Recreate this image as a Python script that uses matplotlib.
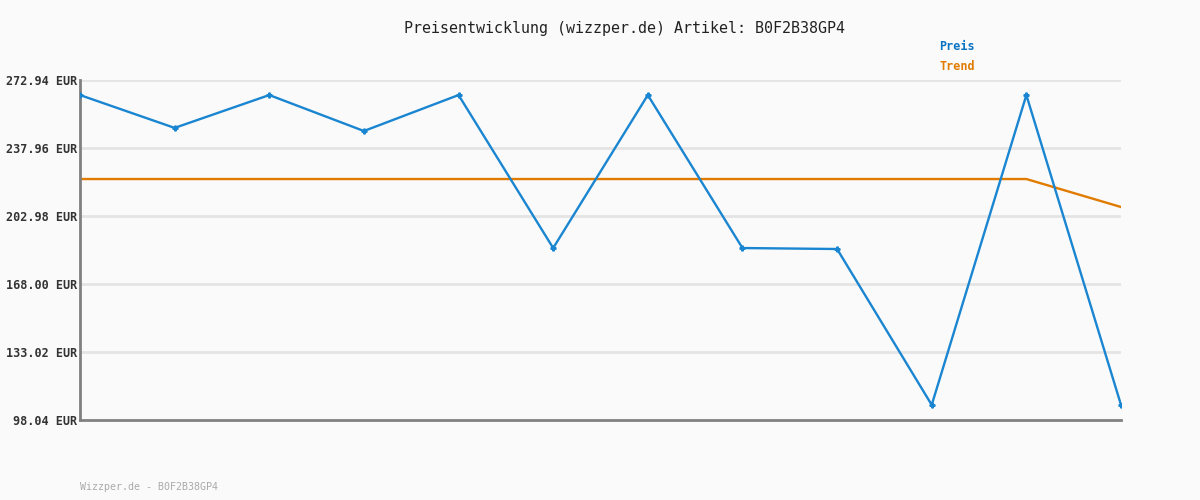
import matplotlib.pyplot as plt

# values
x_idx = list(range(12))
preis = [265.2, 248.3, 265.2, 246.7, 265.2, 186.5, 265.2, 186.5, 186.0, 105.8, 265.2, 105.8]
trend = [222.0, 222.0, 222.0, 222.0, 222.0, 222.0, 222.0, 222.0, 222.0, 222.0, 222.0, 207.6]
yticks = [98.04, 133.02, 168.00, 202.98, 237.96, 272.94]
ytick_labels = [f"{v:.2f} EUR" for v in yticks]

bg = "#fafafa"
blue = "#1a85d0"
orange = "#e07b00"
mono = ["DejaVu Sans Mono"]

fig = plt.figure(figsize=(12, 5), dpi=100, facecolor=bg)
ax = fig.add_axes([80 / 1200, 80 / 500, 1041 / 1200, 340 / 500], facecolor=bg)

for v in yticks[1:]:
    ax.axhline(v, color="#e4e4e4", lw=2, zorder=0)

ax.plot(x_idx, trend, color=orange, lw=1.7, zorder=2)
ax.plot(x_idx, preis, color=blue, lw=1.7, marker="P", ms=3.5, zorder=3)

ax.set_xlim(0, 11)
ax.set_ylim(yticks[0], yticks[-1])
ax.set_xticks([])
ax.set_yticks(yticks)
ax.set_yticklabels(ytick_labels, family=mono, fontweight="bold", fontsize=8.5, color="#333333")
ax.tick_params(axis="y", length=0, pad=2)

for s in ["top", "right"]:
    ax.spines[s].set_visible(False)
for s in ["left", "bottom"]:
    ax.spines[s].set_color("#808080")
    ax.spines[s].set_linewidth(2)

fig.text(624 / 1200, 1 - 28 / 500, "Preisentwicklung (wizzper.de) Artikel: B0F2B38GP4",
         ha="center", va="center", family=mono, fontsize=10.8, color="#222222")
fig.text(939 / 1200, 1 - 47 / 500, "Preis", ha="left", va="center",
         family=mono, fontweight="bold", fontsize=8.5, color="#0a74c4")
fig.text(939 / 1200, 1 - 67 / 500, "Trend", ha="left", va="center",
         family=mono, fontweight="bold", fontsize=8.5, color=orange)
fig.text(80 / 1200, 1 - 487 / 500, "Wizzper.de - B0F2B38GP4", ha="left", va="center",
         family=mono, fontsize=7.2, color="#aaaaaa")

fig.savefig("out.png", dpi=100, facecolor=bg)
